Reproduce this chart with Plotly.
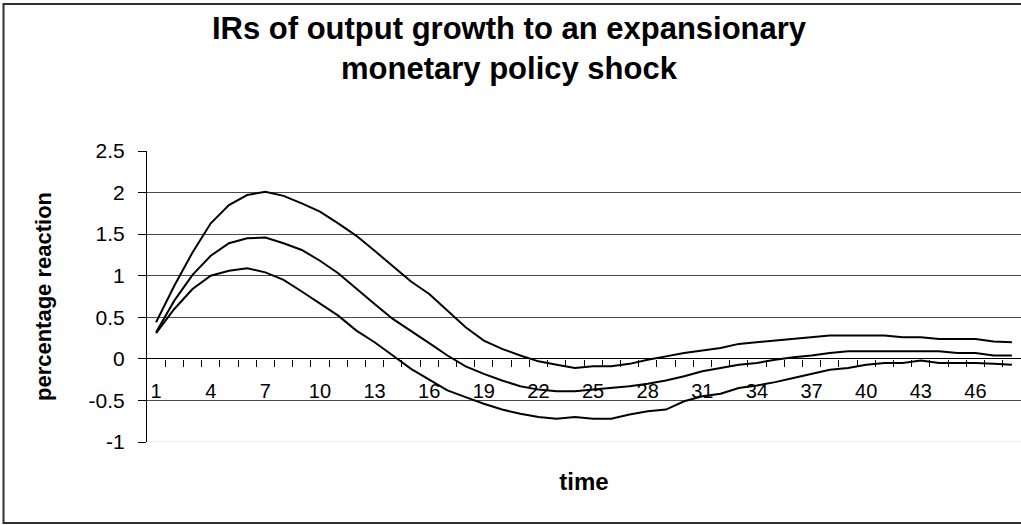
import plotly.graph_objects as go

# ---- data ----
periods = list(range(1, 49))
upper = [0.44, 0.88, 1.28, 1.63, 1.85, 1.97, 2.01, 1.96, 1.87, 1.77,
         1.63, 1.48, 1.30, 1.11, 0.93, 0.78, 0.58, 0.38, 0.22, 0.12,
         0.04, -0.03, -0.07, -0.11, -0.09, -0.09, -0.06, -0.01, 0.03, 0.07,
         0.10, 0.13, 0.18, 0.20, 0.22, 0.24, 0.26, 0.28, 0.28, 0.28,
         0.28, 0.26, 0.26, 0.24, 0.24, 0.24, 0.21, 0.20]
middle = [0.32, 0.70, 1.01, 1.24, 1.39, 1.45, 1.46, 1.39, 1.31, 1.18,
          1.03, 0.84, 0.66, 0.48, 0.34, 0.19, 0.04, -0.09, -0.18, -0.26,
          -0.33, -0.37, -0.39, -0.39, -0.37, -0.35, -0.33, -0.30, -0.26, -0.21,
          -0.15, -0.11, -0.07, -0.05, -0.01, 0.02, 0.04, 0.07, 0.09, 0.09,
          0.09, 0.09, 0.09, 0.09, 0.07, 0.07, 0.04, 0.04]
lower = [0.31, 0.60, 0.84, 1.00, 1.06, 1.09, 1.04, 0.95, 0.81, 0.67,
         0.52, 0.34, 0.20, 0.04, -0.12, -0.25, -0.38, -0.46, -0.54, -0.61,
         -0.66, -0.70, -0.72, -0.70, -0.72, -0.72, -0.67, -0.63, -0.61, -0.51,
         -0.45, -0.42, -0.35, -0.32, -0.28, -0.23, -0.18, -0.13, -0.11, -0.07,
         -0.05, -0.05, -0.02, -0.05, -0.05, -0.05, -0.06, -0.07]
series = [upper, middle, lower]

x_tick_vals = list(range(1, 49, 3))
x_tick_text = [str(v) for v in x_tick_vals]
y_tick_vals = [-1, -0.5, 0, 0.5, 1, 1.5, 2, 2.5]
y_tick_text = ["-1", "-0.5", "0", "0.5", "1", "1.5", "2", "2.5"]

title_text = "IRs of output growth to an expansionary<br>monetary policy shock"
x_title = "time"
y_title = "percentage reaction"

FONT = "Liberation Sans, Arial, Helvetica, sans-serif"

fig = go.Figure()
for s in series:
    fig.add_trace(go.Scatter(
        x=periods, y=s, mode="lines",
        line=dict(color="black", width=2),
        showlegend=False, hoverinfo="skip",
    ))

W, H = 1021, 525
ML, MR, MT, MB = 147, 0, 151, 83
plot_w = W - ML - MR
plot_h = H - MT - MB

def px_to_paper_x(px):
    return (px - ML) / plot_w

def px_to_paper_y(py):
    return (H - MB - py) / plot_h

y_min, y_max = -1, 2.5
zero_pos = (0 - y_min) / (y_max - y_min)

fig.update_layout(
    width=W, height=H,
    margin=dict(l=ML, r=MR, t=MT, b=MB, pad=0),
    paper_bgcolor="white", plot_bgcolor="white",
    font=dict(family=FONT, color="black", size=20),
    title=dict(
        text="<b>" + title_text + "</b>",
        font=dict(family=FONT, size=31, color="black"),
        x=509 / W, xref="container", xanchor="center",
        y=1 - 39 / H, yref="container", yanchor="top",
    ),
    xaxis=dict(
        range=[0.5, 48.5],
        anchor="free", position=zero_pos,
        showline=False, showgrid=False, zeroline=False,
        tickmode="array", tickvals=x_tick_vals, ticktext=x_tick_text,
        ticks="outside", ticklen=0,
        ticklabelstandoff=14,
        tickfont=dict(family=FONT, size=20, color="black"),
        minor=dict(
            tickmode="array",
            tickvals=[i + 0.5 for i in range(1, 48)],
            ticks="outside", ticklen=7, tickcolor="black", tickwidth=1,
            showgrid=False,
        ),
        title=dict(text="<b>" + x_title + "</b>",
                   font=dict(family=FONT, size=24, color="black"),
                   standoff=72),
    ),
    yaxis=dict(
        range=[y_min, y_max],
        showline=True, linecolor="black", linewidth=1,
        ticks="outside", ticklen=8, tickcolor="black", tickwidth=1,
        tickmode="array", tickvals=y_tick_vals, ticktext=y_tick_text,
        ticklabelstandoff=9,
        tickfont=dict(family=FONT, size=21, color="black"),
        showgrid=True, gridcolor="#4a4a4a", gridwidth=1,
        zeroline=True, zerolinecolor="black", zerolinewidth=1,
        title=dict(text="<b>" + y_title + "</b>",
                   font=dict(family=FONT, size=22, color="black"),
                   standoff=30),
    ),
    shapes=[
        # light line along the bottom of the plot area
        dict(type="line", xref="paper", yref="y", x0=0, x1=1, y0=-1, y1=-1,
             line=dict(color="#dddddd", width=1), layer="below"),
        # outer chart frame (right side is cut off in the reference)
        dict(type="rect", xref="paper", yref="paper",
             x0=px_to_paper_x(3.5), x1=px_to_paper_x(W + 20),
             y0=px_to_paper_y(523), y1=px_to_paper_y(4),
             line=dict(color="#303030", width=2), fillcolor="rgba(0,0,0,0)"),
    ],
)

fig.write_html("out.html", config={"displayModeBar": False},
               post_script="document.body.style.margin='0';document.body.style.overflow='hidden';")
